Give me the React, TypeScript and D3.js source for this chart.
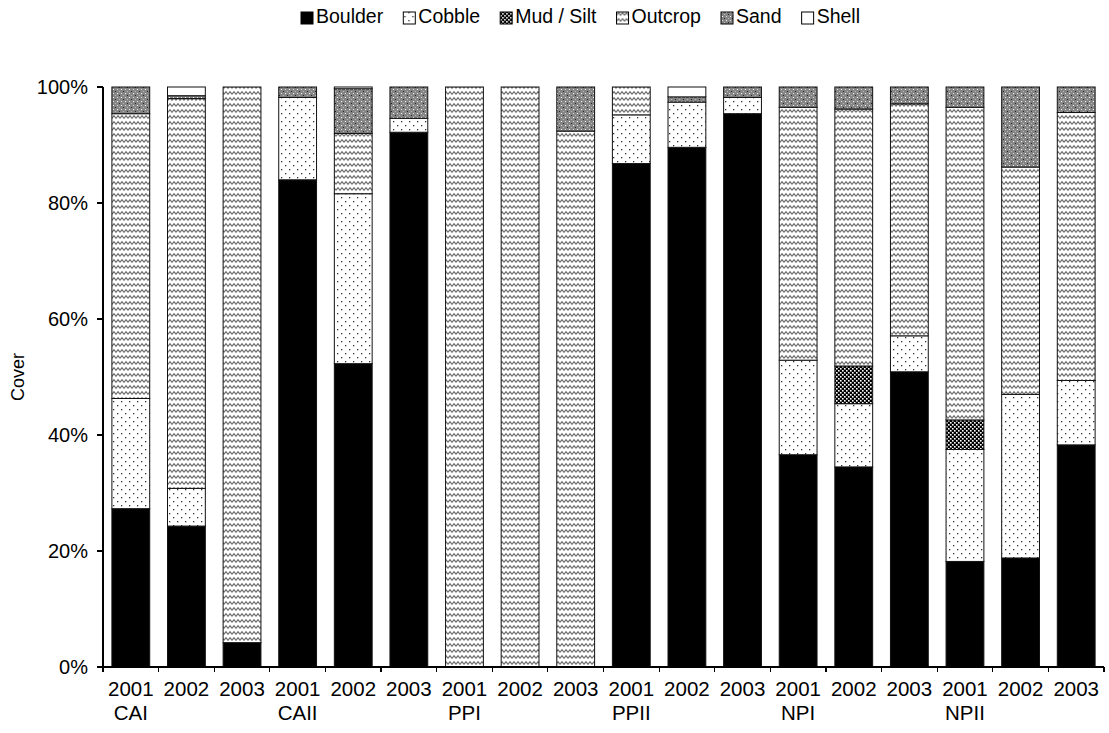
import React, { useEffect, useRef } from "react";
import * as d3 from "d3";

const years = ["2001","2002","2003","2001","2002","2003","2001","2002","2003","2001","2002","2003","2001","2002","2003","2001","2002","2003"];
const groups = ["CAI","","","CAII","","","PPI","","","PPII","","","NPI","","","NPII","",""];
const seriesNames = ["Boulder","Cobble","Mud / Silt","Outcrop","Sand","Shell"];
const boulder = [27.3,24.3,4.2,84.0,52.3,92.2,0,0,0,86.8,89.6,95.4,36.6,34.5,50.9,18.2,18.8,38.3];
const cobble = [19.0,6.5,0,14.2,29.3,2.4,0,0,0,8.4,7.8,2.8,16.3,10.9,6.2,19.3,28.2,11.1];
const mud = [0,0,0,0,0,0,0,0,0,0,0,0,0,6.5,0,5.1,0,0];
const outcrop = [49.1,67.2,95.8,0,10.4,0,100,100,92.4,4.8,0,0,43.6,44.3,40.0,53.9,39.2,46.2];
const sand = [4.6,0.5,0,1.8,7.7,5.4,0,0,7.6,0,0.9,1.8,3.5,3.8,2.9,3.5,13.8,4.4];
const shell = [0,1.5,0,0,0.3,0,0,0,0,0,1.7,0,0,0,0,0,0,0];
const yTicks = [0,20,40,60,80,100];

const fills = ["#000","url(#pCobble)","url(#pMud)","url(#pOutcrop)","url(#pSand)","#fff"];

export default function App() {
  const ref = useRef<SVGSVGElement>(null);
  useEffect(() => {
    const svg = d3.select(ref.current);
    svg.selectAll("*").remove();
    const left = 103, right = 1104, top = 87, bottom = 667;
    const font = "Arial, 'Liberation Sans', sans-serif";

    const defs = svg.append("defs");
    const pc = defs.append("pattern").attr("id","pCobble").attr("patternUnits","userSpaceOnUse").attr("width",8).attr("height",8);
    pc.append("rect").attr("width",8).attr("height",8).attr("fill","#fff");
    pc.append("rect").attr("x",1).attr("y",1).attr("width",1.3).attr("height",1.3).attr("fill","#333");
    pc.append("rect").attr("x",5).attr("y",5).attr("width",1.3).attr("height",1.3).attr("fill","#333");
    const pm = defs.append("pattern").attr("id","pMud").attr("patternUnits","userSpaceOnUse").attr("width",4).attr("height",4);
    pm.append("rect").attr("width",4).attr("height",4).attr("fill","#000");
    pm.append("rect").attr("x",0).attr("y",0).attr("width",1.6).attr("height",1.6).attr("fill","#fff");
    pm.append("rect").attr("x",2).attr("y",2).attr("width",1.6).attr("height",1.6).attr("fill","#fff");
    const po = defs.append("pattern").attr("id","pOutcrop").attr("patternUnits","userSpaceOnUse").attr("width",8).attr("height",6);
    po.append("rect").attr("width",8).attr("height",6).attr("fill","#fff");
    po.append("path").attr("d","M0,4.3 L2,1.7 L4,4.3 L6,1.7 L8,4.3").attr("fill","none").attr("stroke","#6f6f6f").attr("stroke-width",1.2);
    const ps = defs.append("pattern").attr("id","pSand").attr("patternUnits","userSpaceOnUse").attr("width",8).attr("height",8);
    ps.append("rect").attr("width",8).attr("height",8).attr("fill","#858585");
    [[1,1],[5,5],[1,5],[5,1]].forEach(([x,y],i)=>{
      ps.append("rect").attr("x",x).attr("y",y).attr("width",1).attr("height",1).attr("fill", i<2 ? "#fff" : "#ddd");
    });
    [[3,3],[7,7],[3,7],[7,3]].forEach(([x,y],i)=>{
      ps.append("rect").attr("x",x).attr("y",y).attr("width",1).attr("height",1).attr("fill", i<2 ? "#222" : "#bbb");
    });

    const idx = d3.range(years.length);
    const x = d3.scaleBand<number>().domain(idx).range([left,right]).paddingInner(0.32).paddingOuter(0.16);
    const y = d3.scaleLinear().domain([0,100]).range([bottom,top]);

    const table = idx.map(i => ({ i, s0: boulder[i], s1: cobble[i], s2: mud[i], s3: outcrop[i], s4: sand[i], s5: shell[i] }));
    const stack = d3.stack<any>().keys(["s0","s1","s2","s3","s4","s5"]);
    const layers = stack(table);

    const g = svg.append("g");
    layers.forEach((layer, k) => {
      layer.forEach((d: any) => {
        const v = d[1]-d[0];
        if (v <= 0) return;
        g.append("rect")
          .attr("x", x(d.data.i)!)
          .attr("width", x.bandwidth())
          .attr("y", y(d[1]))
          .attr("height", y(d[0]) - y(d[1]))
          .attr("fill", fills[k])
          .attr("stroke", "#111")
          .attr("stroke-width", 1);
      });
    });

    const ax = svg.append("g").attr("stroke","#000").attr("stroke-width",1.2).attr("shape-rendering","crispEdges");
    ax.append("line").attr("x1",left).attr("x2",left).attr("y1",top).attr("y2",bottom);
    ax.append("line").attr("x1",left).attr("x2",right).attr("y1",bottom).attr("y2",bottom);
    yTicks.forEach(t => {
      ax.append("line").attr("x1",left-6).attr("x2",left).attr("y1",y(t)).attr("y2",y(t));
      svg.append("text").attr("x",left-15).attr("y",y(t)).attr("dy","0.35em").attr("text-anchor","end")
        .attr("font-family",font).attr("font-size",20).text(t+"%");
    });
    const step = x.step();
    d3.range(years.length+1).forEach(i => {
      const xx = left + i*step;
      ax.append("line").attr("x1",xx).attr("x2",xx).attr("y1",bottom).attr("y2",bottom+5);
    });
    idx.forEach(i => {
      const cx = x(i)! + x.bandwidth()/2;
      svg.append("text").attr("x",cx).attr("y",696).attr("text-anchor","middle")
        .attr("font-family",font).attr("font-size",20.5).text(years[i]);
      if (groups[i]) svg.append("text").attr("x",cx).attr("y",720).attr("text-anchor","middle")
        .attr("font-family",font).attr("font-size",20.5).text(groups[i]);
    });
    svg.append("text").attr("transform",`translate(24,${(top+bottom)/2}) rotate(-90)`).attr("text-anchor","middle")
      .attr("font-family",font).attr("font-size",18).text("Cover");

    // legend spanning ~300..860
    const lg = svg.append("g");
    const sw = 12, gapT = 3;
    const nodes: any[] = [];
    const widths: number[] = [];
    seriesNames.forEach((name,k) => {
      const it = lg.append("g");
      it.append("rect").attr("x",0).attr("y",-sw+1).attr("width",sw).attr("height",sw).attr("fill",fills[k]).attr("stroke","#000").attr("stroke-width",1);
      const t = it.append("text").attr("x",sw+gapT).attr("y",0).attr("font-family",font).attr("font-size",19.5).text(name);
      widths.push(sw + gapT + (t.node() as SVGTextElement).getComputedTextLength());
      nodes.push(it);
    });
    const L0 = 301, L1 = 860;
    const gapI = Math.max(6, (L1 - L0 - d3.sum(widths)) / (widths.length - 1));
    let cursor = L0;
    nodes.forEach((it, k) => {
      it.attr("transform",`translate(${cursor},23)`);
      cursor += widths[k] + gapI;
    });
  }, []);
  return <svg ref={ref} width={1109} height={733} style={{display:"block", position:"absolute", left:0, top:0, background:"#fff"}} />;
}
